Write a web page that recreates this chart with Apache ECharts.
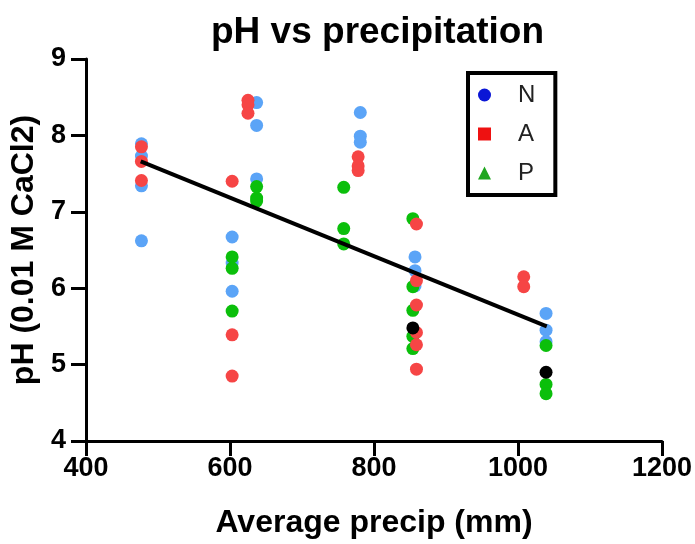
<!DOCTYPE html>
<html>
<head>
<meta charset="utf-8">
<script src="https://cdn.jsdelivr.net/npm/echarts@6/dist/echarts.min.js"></script>
<style>
  html, body { margin: 0; padding: 0; background: #fff; }
  #chart { width: 695px; height: 544px; }
</style>
</head>
<body>
<div id="chart"></div>
<script>
// Soil pH (0.01 M CaCl2) against average precipitation (mm), by group
const nPoints = [
  [477, 7.89], [477, 7.73], [477, 7.34], [477, 6.62],
  [603, 6.67], [603, 6.33], [603, 5.96],
  [637, 8.43], [637, 8.13], [637, 7.43],
  [781, 8.30], [781, 7.99], [781, 7.91],
  [857, 6.41], [857, 6.23], [857, 6.03],
  [1039, 5.67], [1039, 5.45], [1039, 5.30]
];
const aPoints = [
  [477, 7.85], [477, 7.66], [477, 7.41],
  [603, 7.40], [603, 5.39], [603, 4.85],
  [625, 8.46], [625, 8.40], [625, 8.29],
  [778, 7.72], [778, 7.60], [778, 7.54],
  [859, 6.84], [859, 6.10], [859, 5.78], [859, 5.42], [859, 5.26], [859, 4.94],
  [1008, 6.15], [1008, 6.02]
];
const pPoints = [
  [603, 6.41], [603, 6.26], [603, 5.70],
  [637, 7.33], [637, 7.18], [637, 7.14],
  [758, 7.32], [758, 6.78], [758, 6.58],
  [854, 6.91], [854, 6.02], [854, 5.71], [854, 5.37], [854, 5.21],
  [1039, 5.25], [1039, 4.74], [1039, 4.62]
];
const otherPoints = [[854, 5.48], [1039, 4.90]];
// Fitted trend line end points
const trendLine = [[476, 7.66], [1040, 5.50]];

const xTicks = { min: 400, max: 1200, step: 200 };
const yTicks = { min: 4, max: 9, step: 1 };

const FONT = '"Liberation Sans", Arial, Helvetica, sans-serif';
const chart = echarts.init(document.getElementById('chart'), null, { renderer: 'canvas' });

const axisCommon = {
  axisLine: { show: true, onZero: false, lineStyle: { color: '#000', width: 3 } },
  axisTick: { show: true, inside: false, length: 15, lineStyle: { color: '#000', width: 3 } },
  splitLine: { show: false },
  nameLocation: 'middle',
  nameTextStyle: { fontFamily: FONT, fontWeight: 'bold', fontSize: 32, color: '#000' }
};

chart.setOption({
  animation: false,
  backgroundColor: '#fff',
  title: {
    text: 'pH vs precipitation',
    left: 206,
    top: 9,
    textStyle: { fontFamily: FONT, fontWeight: 'bold', fontSize: 37, color: '#000' }
  },
  grid: { left: 86, right: 32, top: 59, bottom: 101, containLabel: false },
  legend: {
    orient: 'vertical',
    left: 468,
    top: 73,
    padding: [10, 20, 10, 10],
    borderColor: '#000',
    borderWidth: 4,
    backgroundColor: '#fff',
    itemWidth: 13,
    itemHeight: 13,
    itemGap: 15,
    textStyle: { fontFamily: FONT, fontSize: 24, color: '#222', padding: [0, 0, 0, 22] },
    data: [
      { name: 'N', icon: 'circle', itemStyle: { color: '#0a16d6' } },
      { name: 'A', icon: 'rect', itemStyle: { color: '#ee1111' } },
      { name: 'P', icon: 'triangle', itemStyle: { color: '#1fa61f' } }
    ]
  },
  xAxis: Object.assign({}, axisCommon, {
    type: 'value',
    min: xTicks.min, max: xTicks.max, interval: xTicks.step,
    name: 'Average precip (mm)',
    nameGap: 66,
    axisLabel: { fontFamily: FONT, fontWeight: 'bold', fontSize: 27, color: '#000', margin: 14,
      formatter: v => String(v) }
  }),
  yAxis: Object.assign({}, axisCommon, {
    type: 'value',
    min: yTicks.min, max: yTicks.max, interval: yTicks.step,
    name: 'pH (0.01 M CaCl2)',
    nameGap: 31,
    axisLabel: { fontFamily: FONT, fontWeight: 'bold', fontSize: 27, color: '#000', margin: 20,
      formatter: v => String(v) }
  }),
  series: [
    { name: 'N', type: 'scatter', data: nPoints, symbol: 'circle', symbolSize: 13,
      itemStyle: { color: '#5ba4f7', opacity: 1 }, z: 2 },
    { name: 'P', type: 'scatter', data: pPoints, symbol: 'circle', symbolSize: 13,
      itemStyle: { color: '#0bbf0b', opacity: 1 }, z: 3 },
    { name: 'A', type: 'scatter', data: aPoints, symbol: 'circle', symbolSize: 13,
      itemStyle: { color: '#f64545', opacity: 1 }, z: 4 },
    { name: 'other', type: 'scatter', data: otherPoints, symbol: 'circle', symbolSize: 13,
      itemStyle: { color: '#000', opacity: 1 }, z: 5 },
    { name: 'trend', type: 'line', data: trendLine, symbol: 'none', silent: true,
      lineStyle: { color: '#000', width: 4 }, z: 6 }
  ]
});
</script>
</body>
</html>
